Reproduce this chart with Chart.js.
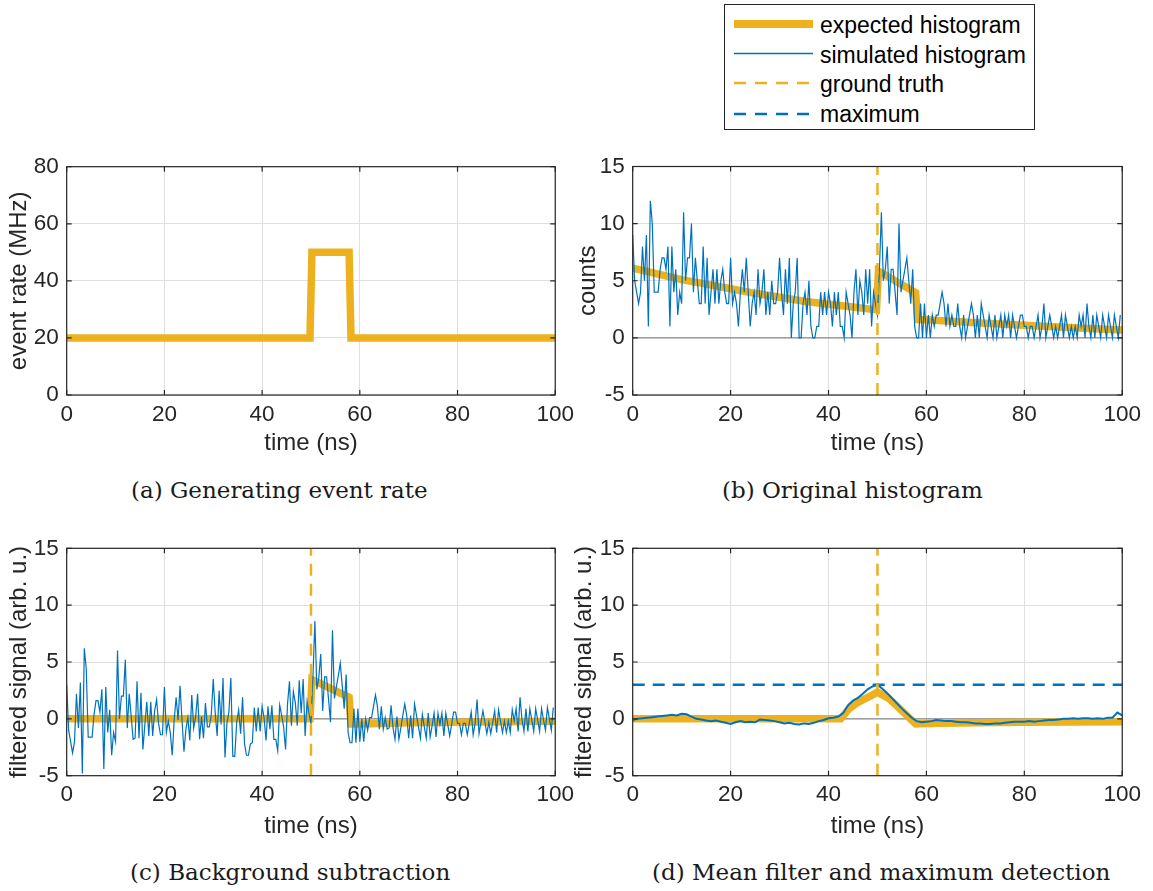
<!DOCTYPE html>
<html>
<head>
<meta charset="utf-8">
<script src="https://cdn.jsdelivr.net/npm/chart.js@4.4.0/dist/chart.umd.min.js"></script>
<style>
  body { margin: 0; background: #fff; width: 1153px; height: 891px; position: relative; overflow: hidden;
         font-family: "Liberation Sans", Arial, sans-serif; }
  canvas { position: absolute; }
  .cap { position: absolute; font-family: "DejaVu Serif", "Liberation Serif", serif; font-size: 23px;
         line-height: 28px; color: #1a1a1a; white-space: nowrap; }
  #legend { position: absolute; left: 724px; top: 4px; width: 309px; height: 124px; border: 1px solid #262626;
            background: #fff; }
  #legend svg { position: absolute; left: 0; top: 0; }
  #legend .txt { position: absolute; left: 95px; font-size: 23px; line-height: 26px; color: #000; white-space: nowrap; }
</style>
</head>
<body>

<div id="legend">
  <svg width="90" height="124">
    <line x1="9" y1="19" x2="88" y2="19" stroke="#EDB120" stroke-width="8"/>
    <line x1="9" y1="48.5" x2="88" y2="48.5" stroke="#0072BD" stroke-width="1.3"/>
    <line x1="9" y1="78" x2="88" y2="78" stroke="#EDB120" stroke-width="2.5" stroke-dasharray="12 9"/>
    <line x1="9" y1="109" x2="88" y2="109" stroke="#0072BD" stroke-width="2.5" stroke-dasharray="12 9"/>
  </svg>
  <div class="txt" style="top:7px">expected histogram</div>
  <div class="txt" style="top:37px">simulated histogram</div>
  <div class="txt" style="top:66px">ground truth</div>
  <div class="txt" style="top:96px">maximum</div>
</div>

<canvas id="chartA" width="580" height="320" style="left:0px;top:140px"></canvas>
<canvas id="chartB" width="581" height="320" style="left:566px;top:140px"></canvas>
<canvas id="chartC" width="580" height="320" style="left:0px;top:522px"></canvas>
<canvas id="chartD" width="581" height="320" style="left:566px;top:522px"></canvas>

<div class="cap" style="left:131px;top:476px">(a) Generating event rate</div>
<div class="cap" style="left:722px;top:476px">(b) Original histogram</div>
<div class="cap" style="left:130px;top:858px">(c) Background subtraction</div>
<div class="cap" style="left:652px;top:858px">(d) Mean filter and maximum detection</div>

<script>
const ORANGE = '#EDB120';
const BLUE = '#0072BD';

const timeTicks = [0, 20, 40, 60, 80, 100];
const rateTicks = [0, 20, 40, 60, 80];
const signalTicks = [-5, 0, 5, 10, 15];

// (a) generating event rate (MHz)
const rateT = [0, 49.8, 50.2, 57.8, 58.2, 100];
const rateV = [20, 20, 50, 50, 20, 20];

// (b) histogram, 0.4 ns bins
const binWidth = 0.4;
const countsSim = [
  9,5,4,3,4, 8,5,9,1,12, 10,4,4,4,6, 7,7,6,8,1, 8,4,6,2,4,
  3,11,5,7,7, 10,4,7,5,3, 3,8,3,7,2, 4,6,3,6,3, 5,6,4,3,3,
  7,3,4,3,1, 4,6,4,7,4, 1,3,4,2,6, 3,4,6,2,4, 2,5,3,3,4,
  7,4,2,6,3, 7,0,3,4,7, 0,0,3,4,2, 5,1,0,0,1, 1,4,2,4,2,
  4,3,1,4,2, 4,1,1,0,4, 3,2,0,4,6, 2,5,4,2,6, 3,6,1,4,3,
  2,6,11,5,6, 8,3,6,6,4, 2,10,4,5,6, 7,5,3,6,1, 0,0,3,0,3,
  0,2,0,2,1, 2,2,3,4,3, 1,3,1,2,1, 1,3,1,0,2, 0,1,2,3,2,
  0,2,0,3,2, 1,0,2,1,0, 2,0,1,2,0, 2,1,2,0,2, 1,0,1,2,2,
  1,1,0,1,1, 0,1,2,0,1, 3,0,1,2,1, 0,1,0,1,2, 0,2,1,0,1,
  0,1,0,2,1, 2,0,3,1,0, 2,0,2,1,0, 2,1,0,2,1, 0,2,1,0,2
];
const expCountsT = [0, 5, 10, 15, 20, 25, 30, 35, 40, 45, 49.8, 50.2, 52, 54, 56, 57.8, 58.2, 60, 70, 80, 90, 100];
const expCountsV = [6.1, 5.6, 5.1, 4.7, 4.3, 3.9, 3.55, 3.2, 2.95, 2.7, 2.45, 5.85, 5.4, 4.9, 4.4, 3.95, 1.6, 1.58, 1.32, 1.1, 0.88, 0.68];

// (c) background subtracted
const filtSim = [
  3.0,-1.0,-2.0,-3.0,-2.0, 2.2,-0.8,3.2,-4.8,6.2, 4.4,-1.6,-1.6,-1.6,0.4, 1.6,1.6,0.6,2.6,-4.4, 2.8,-1.2,0.8,-3.2,-1.2,
  -2.0,6.0,0.0,2.0,2.0, 5.2,-0.8,2.2,0.2,-1.8, -1.7,3.3,-1.7,2.3,-2.7, -0.5,1.5,-1.5,1.5,-1.5, 0.7,1.7,-0.4,-1.4,-1.4,
  2.8,-1.2,-0.2,-1.2,-3.2, -0.1,1.9,-0.1,2.9,-0.1, -2.9,-0.9,0.1,-1.9,2.1, -0.8,0.2,2.2,-1.8,0.2, -1.7,1.4,-0.7,-0.7,0.4,
  3.5,0.5,-1.5,2.5,-0.5, 3.6,-3.4,-0.4,0.6,3.6, -3.3,-3.3,-0.3,0.8,-1.3, 1.9,-2.2,-3.2,-3.2,-2.2, -2.1,1.0,-1.1,1.0,-1.1,
  1.1,0.1,-1.9,1.1,-0.9, 1.2,-1.8,-1.8,-2.8,1.2, 0.3,-0.7,-2.7,1.3,3.3, -0.6,2.4,1.4,-0.6,3.4, 0.5,3.5,-1.5,1.5,0.5,
  -0.4,3.6,8.6,2.6,3.6, 5.7,0.7,3.7,3.7,1.7, -0.3,7.8,1.8,2.8,3.8, 4.9,2.9,0.9,3.9,-1.2, -2.1,-2.1,0.9,-2.1,0.9,
  -2.0,0.0,-2.0,0.0,-1.0, 0.1,0.1,1.1,2.1,1.1, -0.9,1.1,-0.9,0.1,-0.9, -0.8,1.2,-0.8,-1.8,0.2, -1.8,-0.8,0.3,1.3,0.3,
  -1.7,0.3,-1.7,1.3,0.3, -0.7,-1.7,0.4,-0.7,-1.7, 0.5,-1.6,-0.6,0.5,-1.6, 0.5,-0.5,0.5,-1.5,0.5, -0.5,-1.5,-0.5,0.6,0.6,
  -0.4,-0.4,-1.4,-0.4,-0.4, -1.4,-0.4,0.6,-1.4,-0.4, 1.7,-1.3,-0.3,0.7,-0.3, -1.3,-0.3,-1.3,-0.3,0.7, -1.2,0.8,-0.2,-1.2,-0.2,
  -1.2,-0.2,-1.2,0.8,-0.2, 0.9,-1.1,1.9,-0.1,-1.1, 0.9,-1.1,0.9,-0.1,-1.1, 0.9,-0.1,-1.1,0.9,-0.1, -1.0,1.0,0.0,-1.0,1.0
];
const expFiltT = [0, 49.8, 50.2, 57.8, 58.2, 60, 70, 80, 90, 100];
const expFiltV = [0, 0, 3.45, 1.9, -0.45, -0.45, -0.35, -0.3, -0.25, -0.22];

// (d) mean filter, 1 ns steps
const meanStep = 1;
const meanSim = [
  -0.1,0.0,0.05,0.1,0.15,0.2,0.25,0.3,0.35,0.3,
  0.45,0.4,0.2,0.0,-0.05,-0.15,-0.2,-0.15,-0.25,-0.35,
  -0.45,-0.3,-0.2,-0.3,-0.25,-0.3,-0.05,-0.1,-0.15,-0.2,
  -0.3,-0.4,-0.35,-0.45,-0.5,-0.4,-0.45,-0.35,-0.2,-0.1,
  0.05,0.1,0.2,0.5,1.2,1.6,1.85,2.2,2.6,2.85,
  3.0,2.65,2.25,1.8,1.35,0.9,0.5,0.1,-0.2,-0.3,
  -0.25,-0.2,-0.1,-0.15,-0.2,-0.2,-0.25,-0.3,-0.3,-0.35,
  -0.4,-0.4,-0.45,-0.45,-0.4,-0.4,-0.35,-0.3,-0.25,-0.25,
  -0.25,-0.2,-0.25,-0.2,-0.15,-0.1,-0.1,-0.05,0.0,0.0,
  0.05,0.0,0.05,0.05,0.0,0.05,0.0,0.1,0.1,0.55,
  0.3
];
const expMeanT = [0, 42.5, 44.2, 46.2, 48.3, 50, 52.3, 55, 57.8, 60, 70, 80, 100];
const expMeanV = [0, 0, 0.9, 1.5, 1.95, 2.35, 1.8, 0.7, -0.45, -0.4, -0.35, -0.3, -0.25];

const groundTruth = 50;
const maximum = 3.0;

const pts = (xs, ys) => ys.map((y, i) => ({x: xs[i], y: y}));
const binTimes = countsSim.map((_, i) => i * binWidth);
const meanTimes = meanSim.map((_, i) => i * meanStep);

// box + inward ticks, like the original axes
const frame = {
  id: 'frame',
  afterDraw(chart) {
    const {ctx, chartArea: a, scales: {x, y}} = chart;
    const len = 5;
    ctx.save();
    ctx.strokeStyle = '#262626';
    ctx.lineWidth = 1.2;
    ctx.strokeRect(a.left, a.top, a.right - a.left, a.bottom - a.top);
    ctx.beginPath();
    x.ticks.forEach(t => {
      const px = x.getPixelForValue(t.value);
      ctx.moveTo(px, a.bottom); ctx.lineTo(px, a.bottom - len);
      ctx.moveTo(px, a.top); ctx.lineTo(px, a.top + len);
    });
    y.ticks.forEach(t => {
      const py = y.getPixelForValue(t.value);
      ctx.moveTo(a.left, py); ctx.lineTo(a.left + len, py);
      ctx.moveTo(a.right, py); ctx.lineTo(a.right - len, py);
    });
    ctx.stroke();
    ctx.restore();
  }
};

function line(data, color, width, extra) {
  return Object.assign({data: data, borderColor: color, borderWidth: width, pointRadius: 0,
                        tension: 0, fill: false}, extra || {});
}

function makeChart(id, box, yTicks, yTitle, datasets) {
  new Chart(document.getElementById(id), {
    type: 'line',
    data: {datasets: datasets},
    options: {
      responsive: false,
      animation: false,
      devicePixelRatio: 1,
      layout: {padding: {top: box.top, right: box.right, left: 0, bottom: 0}},
      plugins: {legend: {display: false}, tooltip: {enabled: false}},
      scales: {
        x: {
          type: 'linear', min: 0, max: 100,
          afterBuildTicks: s => { s.ticks = timeTicks.map(v => ({value: v})); },
          afterFit: s => { s.height = box.xh; },
          grid: {color: '#dfdfdf', lineWidth: 1, drawTicks: false},
          border: {display: false},
          ticks: {color: '#262626', font: {size: 22.5, family: 'Liberation Sans'}, padding: 6, maxRotation: 0},
          title: {display: true, text: 'time (ns)', color: '#262626',
                  font: {size: 24, family: 'Liberation Sans'}, padding: {top: 0, bottom: box.xtp}}
        },
        y: {
          type: 'linear', min: yTicks[0], max: yTicks[yTicks.length - 1],
          afterBuildTicks: s => { s.ticks = yTicks.map(v => ({value: v})); },
          afterFit: s => { s.width = box.yw; },
          grid: {color: '#dfdfdf', lineWidth: 1, drawTicks: false},
          border: {display: false},
          ticks: {color: '#262626', font: {size: 22.5, family: 'Liberation Sans'}, padding: 8},
          title: {display: true, text: yTitle, color: '#262626',
                  font: {size: 24, family: 'Liberation Sans'}, padding: {top: box.ytp, bottom: 0}}
        }
      }
    },
    plugins: [frame]
  });
}

const zeroLine = () => line([{x: 0, y: 0}, {x: 100, y: 0}], '#8a8a8a', 1.2, {order: 9});
const truthLine = () => line([{x: groundTruth, y: -5}, {x: groundTruth, y: 15}], ORANGE, 2.5,
                             {borderDash: [12, 8], order: 0});

makeChart('chartA', {top: 26.7, right: 22, xh: 65, yw: 66.7, xtp: 2.6, ytp: 4.6}, rateTicks, 'event rate (MHz)', [
  line(pts(rateT, rateV), ORANGE, 7.5, {borderJoinStyle: 'miter'})
]);

makeChart('chartB', {top: 26.5, right: 22, xh: 65, yw: 66.7, xtp: 2.6, ytp: 7.6}, signalTicks, 'counts', [
  truthLine(),
  line(pts(binTimes, countsSim), BLUE, 1.2, {order: 1}),
  line(pts(expCountsT, expCountsV), ORANGE, 7.5, {order: 5}),
  zeroLine()
]);

makeChart('chartC', {top: 26.3, right: 22, xh: 66.3, yw: 66.7, xtp: 1.6, ytp: 4.6}, signalTicks, 'filtered signal (arb. u.)', [
  truthLine(),
  line(pts(binTimes, filtSim), BLUE, 1.2, {order: 1}),
  line(pts(expFiltT, expFiltV), ORANGE, 7.5, {order: 5}),
  zeroLine()
]);

makeChart('chartD', {top: 26.3, right: 22, xh: 66.3, yw: 66.7, xtp: 1.6, ytp: 3.6}, signalTicks, 'filtered signal (arb. u.)', [
  truthLine(),
  line([{x: 0, y: maximum}, {x: 100, y: maximum}], BLUE, 2.5, {borderDash: [12, 8], order: 0}),
  line(pts(meanTimes, meanSim), BLUE, 2, {order: 1}),
  line(pts(expMeanT, expMeanV), ORANGE, 7.5, {order: 5}),
  zeroLine()
]);
</script>
</body>
</html>
